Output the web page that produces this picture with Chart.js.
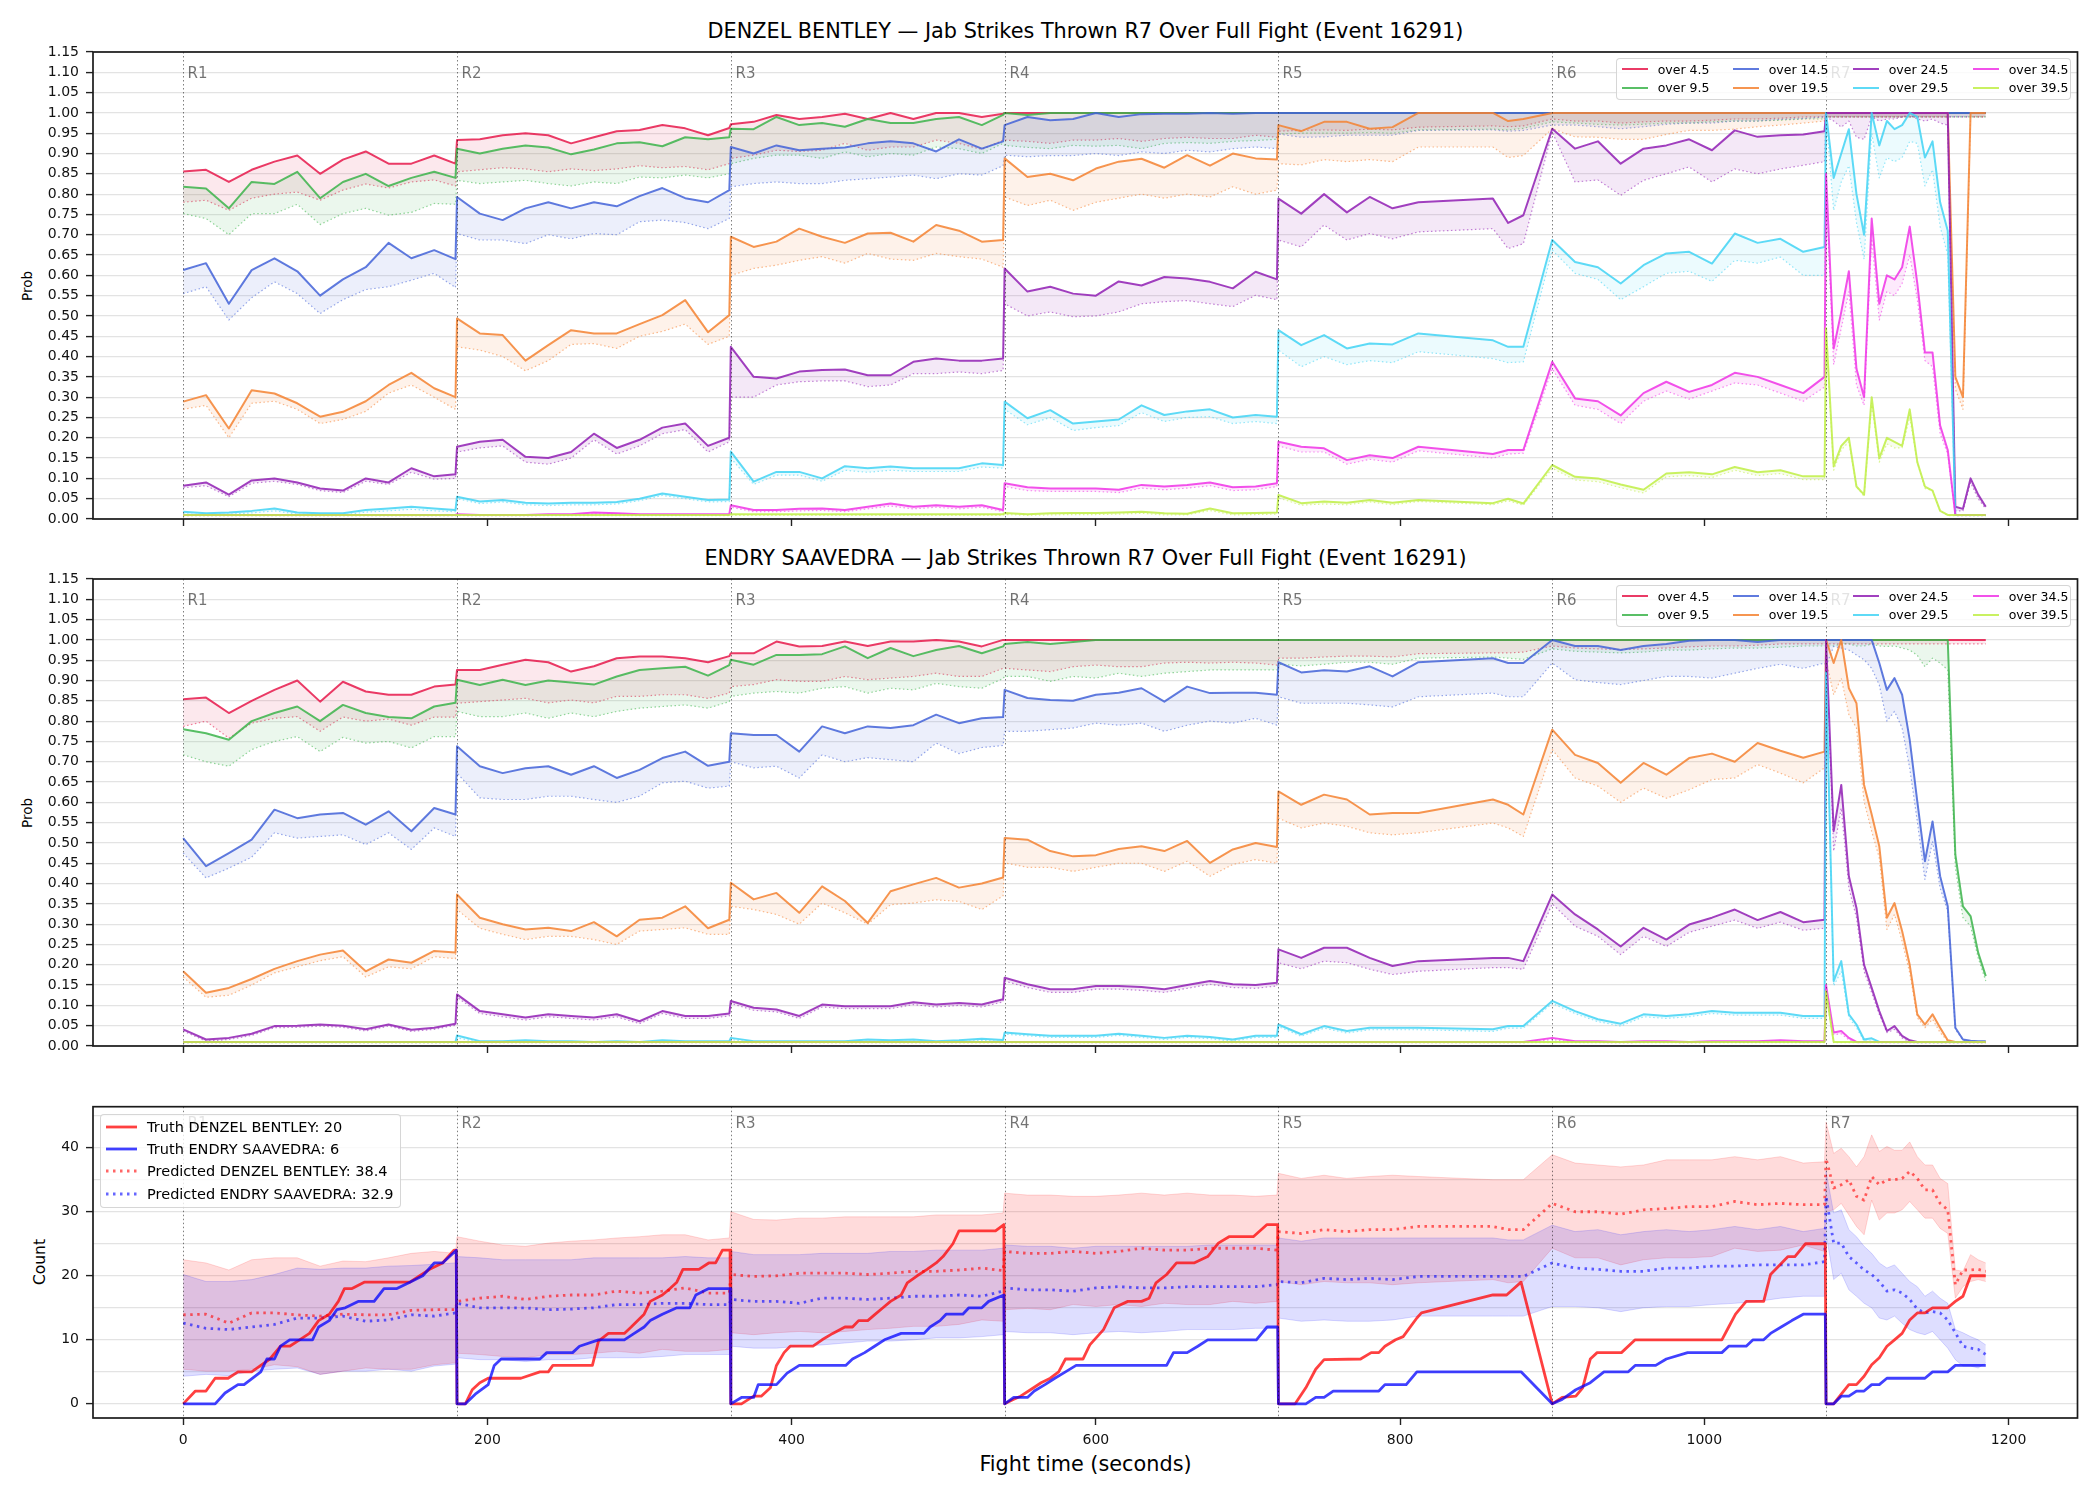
<!DOCTYPE html>
<html>
<head>
<meta charset="utf-8">
<title>Jab Strikes Thrown R7 Over Full Fight (Event 16291)</title>
<script src="https://cdn.jsdelivr.net/npm/chart.js"></script>
<style>
  body { margin: 0; background: #fff; font-family: "DejaVu Sans", sans-serif; color: #000; }
  #page { position: relative; width: 2100px; height: 1500px; overflow: hidden; }
  canvas { position: absolute; left: 0; }
  .title { position: absolute; left: 93px; width: 1985px; text-align: center; font-size: 20.8px; line-height: 24px; white-space: nowrap; }
  .ylab { position: absolute; transform: translate(-50%, -50%) rotate(-90deg); white-space: nowrap; }
  .legend { position: absolute; background: rgba(255,255,255,0.8); border: 1px solid rgba(204,204,204,0.8); border-radius: 4px; box-sizing: border-box; z-index: 5; }
  .item { position: absolute; display: flex; align-items: center; white-space: nowrap; }
</style>
</head>
<body>
<div id="page">
  <div class="title" style="top:19px">DENZEL BENTLEY — Jab Strikes Thrown R7 Over Full Fight (Event 16291)</div>
  <div class="title" style="top:546px">ENDRY SAAVEDRA — Jab Strikes Thrown R7 Over Full Fight (Event 16291)</div>
  <div class="title" style="top:1452px">Fight time (seconds)</div>
  <div class="ylab" style="left:27px;top:286px;font-size:13.5px">Prob</div>
  <div class="ylab" style="left:27px;top:813px;font-size:13.5px">Prob</div>
  <div class="ylab" style="left:40px;top:1262px;font-size:15.5px">Count</div>
  <canvas id="top" width="2100" height="545" style="top:0"></canvas>
  <canvas id="mid" width="2100" height="545" style="top:527px"></canvas>
  <canvas id="cnt" width="2100" height="446" style="top:1054px"></canvas>
</div>
<script>
// sample times (s); rounds R1-R6 every 15 s, R7 every 5 s
const times = [
  0,15,30,45,60,75,90,105,120,135,150,165,179,
  180,195,210,225,240,255,270,285,300,315,330,345,359,
  360,375,390,405,420,435,450,465,480,495,510,525,539,
  540,555,570,585,600,615,630,645,660,675,690,705,719,
  720,735,750,765,780,795,812,861,871,881,
  900,915,930,945,960,975,990,1005,1020,1035,1050,1065,1079,
  1080,1085,1090,1095,1100,1105,1110,1115,1120,1125,1130,1135,1140,1145,1150,1155,1160,1165,1170,1175,1180,1185
];
const roundStarts = [0, 180, 360, 540, 720, 900, 1080];
const roundNames = ["R1", "R2", "R3", "R4", "R5", "R6", "R7"];
const thresholds = ["over 4.5", "over 9.5", "over 14.5", "over 19.5", "over 24.5", "over 29.5", "over 34.5", "over 39.5"];
const seriesColors = ["#e6194b", "#3cb44b", "#4363d8", "#f58231", "#911eb4", "#42d4f4", "#f032e6", "#bfef45"];
const xTicks = [0, 200, 400, 600, 800, 1000, 1200];
const probTicks = [0,0.05,0.1,0.15,0.2,0.25,0.3,0.35,0.4,0.45,0.5,0.55,0.6,0.65,0.7,0.75,0.8,0.85,0.9,0.95,1,1.05,1.1,1.15];
const countTicks = [0,5,10,15,20,25,30,35,40,45];
const countLabels = [0, 10, 20, 30, 40];

// DENZEL BENTLEY: probability of over N.5 (solid) and lower estimate (dotted)
const db4_5 = [
  0.856,0.86,0.83,0.86,0.88,0.895,0.85,0.885,0.905,0.875,0.875,0.895,0.875,
  0.933,0.935,0.945,0.95,0.945,0.925,0.94,0.955,0.958,0.97,0.962,0.945,0.963,
  0.972,0.978,0.995,0.985,0.99,0.998,0.985,1,0.985,1,1,0.99,0.998,
  1,1,1,1,1,1,1,1,1,1,1,1,1,
  1,1,1,1,1,1,1,1,1,1,
  1,1,1,1,1,1,1,1,1,1,1,1,1,
  1,1,1,1,1,1,1,1,1,1,1,1,1,1,1,1,1,1,1,1,1,1
];
const db4_5Lo = [
  0.78,0.785,0.76,0.79,0.8,0.805,0.785,0.81,0.825,0.815,0.83,0.835,0.82,
  0.855,0.86,0.865,0.862,0.855,0.862,0.858,0.862,0.87,0.865,0.868,0.86,0.875,
  0.888,0.896,0.908,0.905,0.908,0.925,0.908,0.916,0.916,0.933,0.925,0.91,0.933,
  0.933,0.93,0.925,0.933,0.933,0.937,0.93,0.937,0.94,0.937,0.937,0.945,0.94,
  0.955,0.957,0.958,0.957,0.96,0.958,0.965,0.968,0.966,0.968,
  0.985,0.98,0.98,0.975,0.978,0.98,0.98,0.982,0.985,0.985,0.987,0.99,0.99,
  0.99,0.99,0.99,0.99,0.99,0.99,0.99,0.99,0.99,0.99,0.99,0.99,0.99,0.99,0.99,0.99,0.99,0.99,0.99,0.99,0.99,0.99
];
const db9_5 = [
  0.818,0.814,0.765,0.83,0.825,0.855,0.79,0.83,0.85,0.82,0.84,0.855,0.84,
  0.912,0.9,0.912,0.92,0.915,0.898,0.91,0.925,0.928,0.918,0.94,0.935,0.94,
  0.961,0.96,0.99,0.97,0.975,0.966,0.985,0.975,0.975,0.985,0.99,0.97,0.995,
  1,0.995,1,1,1,1,1,1,1,1,1,1,1,
  1,1,1,1,1,1,1,1,1,1,
  1,1,1,1,1,1,1,1,1,1,1,1,1,
  1,1,1,1,1,1,1,1,1,1,1,1,1,1,1,1,1,1,1,1,1,1
];
const db9_5Lo = [
  0.752,0.74,0.7,0.752,0.752,0.775,0.725,0.752,0.765,0.748,0.755,0.777,0.775,
  0.834,0.826,0.83,0.834,0.826,0.82,0.83,0.826,0.842,0.84,0.847,0.84,0.85,
  0.875,0.888,0.896,0.896,0.888,0.904,0.892,0.9,0.896,0.916,0.912,0.9,0.925,
  0.92,0.915,0.912,0.92,0.918,0.92,0.912,0.925,0.927,0.925,0.93,0.932,0.935,
  0.948,0.95,0.95,0.95,0.952,0.95,0.958,0.96,0.958,0.962,
  0.978,0.975,0.972,0.97,0.972,0.975,0.975,0.978,0.98,0.98,0.982,0.985,0.985,
  0.99,0.99,0.99,0.99,0.99,0.99,0.99,0.99,0.99,0.99,0.99,0.99,0.99,0.99,0.99,0.99,0.99,0.99,0.99,0.99,0.99,0.99
];
const db14_5 = [
  0.613,0.63,0.53,0.613,0.642,0.61,0.55,0.59,0.62,0.68,0.642,0.662,0.64,
  0.793,0.752,0.736,0.765,0.78,0.765,0.78,0.77,0.795,0.815,0.79,0.78,0.81,
  0.916,0.9,0.92,0.908,0.912,0.915,0.925,0.93,0.925,0.905,0.935,0.912,0.93,
  0.97,0.99,0.982,0.985,1,0.99,0.997,0.998,0.998,1,0.998,1,1,
  1,1,1,1,1,1,1,1,1,1,
  1,1,1,1,1,1,1,1,1,1,1,1,1,
  1,1,1,1,1,1,1,1,1,1,1,1,1,1,1,1,1,1,1,1,1,1
];
const db14_5Lo = [
  0.555,0.572,0.49,0.545,0.584,0.555,0.506,0.54,0.565,0.572,0.588,0.605,0.57,
  0.703,0.687,0.687,0.678,0.7,0.69,0.703,0.7,0.732,0.736,0.73,0.715,0.74,
  0.818,0.826,0.83,0.826,0.826,0.834,0.838,0.842,0.847,0.838,0.85,0.847,0.87,
  0.896,0.892,0.895,0.895,0.9,0.895,0.904,0.9,0.908,0.904,0.912,0.916,0.912,
  0.948,0.94,0.941,0.945,0.945,0.945,0.957,0.958,0.955,0.957,
  0.97,0.97,0.966,0.961,0.966,0.972,0.975,0.975,0.98,0.98,0.984,0.986,0.99,
  0.99,0.99,0.99,0.99,0.99,0.99,0.99,0.99,0.99,0.99,0.99,0.99,0.99,0.99,0.99,0.99,0.99,0.99,0.99,0.99,0.99,0.99
];
const db19_5 = [
  0.289,0.305,0.223,0.317,0.309,0.285,0.252,0.264,0.29,0.33,0.36,0.322,0.3,
  0.494,0.457,0.453,0.39,0.428,0.465,0.457,0.457,0.48,0.502,0.539,0.46,0.502,
  0.695,0.67,0.683,0.715,0.695,0.68,0.703,0.705,0.683,0.724,0.71,0.683,0.687,
  0.888,0.842,0.85,0.834,0.863,0.88,0.887,0.865,0.896,0.87,0.9,0.888,0.885,
  0.97,0.955,0.978,0.978,0.961,0.965,1,1,0.98,0.985,
  1,1,1,1,1,1,1,1,1,1,1,1,1,
  1,1,1,1,1,1,1,1,1,1,1,1,1,1,1,1,1,0.35,0.3,1,1,1
];
const db19_5Lo = [
  0.27,0.28,0.2,0.285,0.29,0.27,0.235,0.245,0.265,0.31,0.33,0.3,0.27,
  0.424,0.416,0.4,0.365,0.39,0.43,0.432,0.42,0.45,0.462,0.48,0.43,0.45,
  0.6,0.617,0.625,0.637,0.646,0.63,0.654,0.64,0.637,0.654,0.646,0.64,0.62,
  0.793,0.772,0.785,0.76,0.78,0.79,0.8,0.79,0.8,0.793,0.818,0.8,0.81,
  0.875,0.872,0.885,0.88,0.885,0.88,0.916,0.916,0.89,0.895,
  0.961,0.941,0.94,0.935,0.935,0.947,0.957,0.957,0.96,0.966,0.97,0.975,0.98,
  0.99,0.99,0.99,0.99,0.99,0.99,0.99,0.99,0.99,0.99,0.99,0.99,0.99,0.99,0.99,0.99,0.99,0.32,0.27,0.99,0.99,0.99
];
const db24_5 = [
  0.082,0.09,0.06,0.095,0.1,0.09,0.075,0.07,0.1,0.09,0.125,0.105,0.11,
  0.178,0.19,0.195,0.153,0.15,0.165,0.21,0.175,0.195,0.225,0.235,0.18,0.2,
  0.424,0.35,0.346,0.363,0.367,0.368,0.354,0.354,0.387,0.395,0.39,0.39,0.395,
  0.617,0.56,0.572,0.555,0.55,0.585,0.575,0.596,0.592,0.584,0.568,0.609,0.59,
  0.789,0.752,0.8,0.755,0.793,0.765,0.78,0.789,0.729,0.748,
  0.961,0.912,0.93,0.875,0.912,0.92,0.935,0.908,0.957,0.941,0.945,0.947,0.955,
  1,1,1,1,1,1,1,1,1,1,1,1,1,1,1,1,1,0.03,0.025,0.1,0.06,0.03
];
const db24_5Lo = [
  0.077,0.082,0.055,0.088,0.093,0.085,0.07,0.065,0.093,0.085,0.115,0.098,0.1,
  0.165,0.175,0.18,0.14,0.135,0.15,0.195,0.16,0.18,0.21,0.22,0.165,0.19,
  0.3,0.3,0.33,0.338,0.34,0.34,0.326,0.33,0.358,0.358,0.362,0.358,0.366,
  0.53,0.5,0.51,0.498,0.5,0.51,0.53,0.535,0.538,0.53,0.523,0.551,0.54,
  0.687,0.67,0.724,0.687,0.703,0.69,0.707,0.715,0.666,0.678,
  0.953,0.83,0.835,0.797,0.834,0.85,0.867,0.83,0.862,0.85,0.862,0.871,0.88,
  0.99,0.98,0.965,0.98,0.94,0.935,0.99,0.98,0.985,0.985,0.99,0.995,0.985,0.98,0.985,0.975,0.97,0.02,0.02,0.09,0.05,0.025
];
const db29_5 = [
  0.018,0.014,0.016,0.02,0.026,0.016,0.014,0.014,0.022,0.026,0.03,0.026,0.022,
  0.055,0.043,0.047,0.04,0.038,0.04,0.04,0.042,0.05,0.063,0.055,0.047,0.048,
  0.166,0.092,0.116,0.116,0.1,0.13,0.125,0.129,0.125,0.125,0.125,0.137,0.133,
  0.289,0.248,0.268,0.235,0.24,0.245,0.28,0.256,0.265,0.27,0.25,0.256,0.252,
  0.465,0.428,0.453,0.42,0.432,0.43,0.457,0.44,0.424,0.424,
  0.687,0.633,0.62,0.58,0.625,0.654,0.658,0.629,0.703,0.68,0.69,0.658,0.67,
  1,0.84,0.9,0.96,0.8,0.7,1,0.92,0.98,0.96,0.97,1,0.99,0.89,0.93,0.78,0.71,0.01,0.01,0.01,0.01,0.01
];
const db29_5Lo = [
  0.013,0.01,0.012,0.015,0.02,0.012,0.01,0.01,0.017,0.02,0.024,0.02,0.018,
  0.05,0.038,0.042,0.035,0.033,0.035,0.035,0.037,0.045,0.058,0.05,0.042,0.043,
  0.15,0.085,0.108,0.108,0.093,0.12,0.115,0.12,0.117,0.117,0.117,0.128,0.125,
  0.27,0.232,0.25,0.218,0.225,0.23,0.262,0.24,0.25,0.252,0.235,0.24,0.235,
  0.416,0.375,0.4,0.38,0.39,0.385,0.412,0.395,0.385,0.387,
  0.662,0.605,0.59,0.54,0.572,0.605,0.61,0.585,0.637,0.63,0.645,0.6,0.6,
  0.99,0.76,0.83,0.87,0.73,0.64,0.95,0.84,0.89,0.88,0.89,0.93,0.925,0.82,0.86,0.72,0.65,0.008,0.008,0.008,0.008,0.008
];
const db34_5 = [
  0.01,0.01,0.01,0.01,0.01,0.01,0.01,0.01,0.01,0.01,0.01,0.01,0.01,
  0.012,0.01,0.01,0.01,0.012,0.012,0.016,0.014,0.012,0.012,0.012,0.012,0.012,
  0.034,0.022,0.022,0.025,0.026,0.022,0.03,0.038,0.03,0.034,0.03,0.034,0.022,
  0.088,0.078,0.075,0.075,0.075,0.072,0.084,0.08,0.084,0.09,0.078,0.08,0.088,
  0.19,0.178,0.174,0.145,0.157,0.15,0.178,0.16,0.17,0.17,
  0.387,0.297,0.29,0.255,0.31,0.338,0.313,0.33,0.36,0.35,0.33,0.31,0.35,
  0.85,0.42,0.51,0.61,0.37,0.3,0.74,0.53,0.6,0.59,0.62,0.72,0.58,0.41,0.41,0.23,0.17,0.01,0.01,0.01,0.01,0.01
];
const db34_5Lo = [
  0.008,0.008,0.008,0.008,0.008,0.008,0.008,0.008,0.008,0.008,0.008,0.008,0.008,
  0.009,0.008,0.008,0.008,0.009,0.009,0.012,0.011,0.009,0.009,0.009,0.009,0.009,
  0.029,0.018,0.018,0.02,0.021,0.018,0.025,0.032,0.025,0.029,0.025,0.029,0.018,
  0.08,0.07,0.068,0.068,0.068,0.065,0.076,0.072,0.076,0.082,0.07,0.072,0.08,
  0.18,0.165,0.165,0.135,0.147,0.14,0.168,0.15,0.16,0.162,
  0.37,0.28,0.27,0.235,0.29,0.315,0.295,0.315,0.335,0.33,0.31,0.29,0.325,
  0.8,0.38,0.47,0.56,0.33,0.28,0.69,0.49,0.56,0.55,0.58,0.65,0.54,0.39,0.375,0.21,0.16,0.008,0.008,0.008,0.008,0.008
];
const db39_5 = [
  0.01,0.01,0.01,0.01,0.01,0.01,0.01,0.01,0.01,0.01,0.01,0.01,0.01,
  0.01,0.01,0.01,0.01,0.01,0.01,0.01,0.01,0.01,0.01,0.01,0.01,0.01,
  0.012,0.012,0.012,0.012,0.012,0.012,0.012,0.012,0.012,0.012,0.012,0.012,0.012,
  0.015,0.012,0.014,0.015,0.015,0.016,0.018,0.014,0.013,0.026,0.014,0.015,0.016,
  0.059,0.039,0.043,0.04,0.047,0.04,0.047,0.039,0.05,0.038,
  0.133,0.104,0.1,0.085,0.072,0.112,0.115,0.11,0.128,0.115,0.12,0.105,0.105,
  0.47,0.13,0.18,0.2,0.08,0.06,0.3,0.15,0.2,0.19,0.18,0.27,0.14,0.08,0.07,0.02,0.01,0.01,0.01,0.01,0.01,0.01
];
const db39_5Lo = [
  0.008,0.008,0.008,0.008,0.008,0.008,0.008,0.008,0.008,0.008,0.008,0.008,0.008,
  0.008,0.008,0.008,0.008,0.008,0.008,0.008,0.008,0.008,0.008,0.008,0.008,0.008,
  0.009,0.009,0.009,0.009,0.009,0.009,0.009,0.009,0.009,0.009,0.009,0.009,0.009,
  0.011,0.009,0.01,0.011,0.011,0.012,0.014,0.01,0.01,0.021,0.01,0.011,0.012,
  0.052,0.034,0.037,0.035,0.042,0.035,0.043,0.035,0.045,0.034,
  0.125,0.096,0.092,0.077,0.064,0.104,0.107,0.102,0.12,0.107,0.112,0.097,0.097,
  0.45,0.12,0.17,0.19,0.08,0.055,0.285,0.14,0.185,0.175,0.175,0.25,0.14,0.075,0.07,0.02,0.008,0.008,0.008,0.008,0.008,0.008
];

// ENDRY SAAVEDRA
const es4_5 = [
  0.854,0.858,0.82,0.85,0.877,0.9,0.848,0.897,0.873,0.865,0.865,0.885,0.89,
  0.926,0.926,0.939,0.951,0.945,0.922,0.935,0.955,0.959,0.959,0.955,0.945,0.96,
  0.967,0.967,0.996,0.984,0.985,0.996,0.985,0.996,0.996,1,0.996,0.984,1,
  1,1,1,1,1,1,1,1,1,1,1,1,1,
  1,1,1,1,1,1,1,1,1,1,
  1,1,1,1,1,1,1,1,1,1,1,1,1,
  1,1,1,1,1,1,1,1,1,1,1,1,1,1,1,1,1,1,1,1,1,1
];
const es4_5Lo = [
  0.787,0.8,0.758,0.795,0.807,0.811,0.775,0.81,0.8,0.805,0.79,0.81,0.81,
  0.844,0.848,0.852,0.856,0.845,0.852,0.845,0.861,0.861,0.865,0.865,0.856,0.869,
  0.885,0.89,0.902,0.898,0.898,0.91,0.902,0.906,0.91,0.918,0.91,0.91,0.93,
  0.93,0.926,0.922,0.934,0.938,0.934,0.934,0.943,0.945,0.943,0.945,0.943,0.938,
  0.955,0.955,0.958,0.96,0.96,0.958,0.966,0.968,0.968,0.97,
  0.985,0.98,0.978,0.976,0.978,0.98,0.983,0.985,0.985,0.987,0.99,0.99,0.99,
  0.99,0.99,0.99,0.99,0.99,0.99,0.99,0.99,0.99,0.99,0.99,0.99,0.99,0.99,0.99,0.99,0.99,0.99,0.99,0.99,0.99,0.99
];
const es9_5 = [
  0.78,0.77,0.754,0.8,0.82,0.836,0.8,0.84,0.82,0.81,0.807,0.836,0.845,
  0.902,0.889,0.902,0.889,0.9,0.895,0.89,0.91,0.926,0.93,0.934,0.912,0.938,
  0.951,0.939,0.963,0.963,0.965,0.984,0.955,0.98,0.96,0.975,0.985,0.967,0.984,
  0.99,0.995,0.99,0.995,1,1,1,1,1,1,1,1,1,
  1,1,1,1,1,1,1,1,1,1,
  1,1,1,1,1,1,1,1,1,1,1,1,1,
  1,1,1,1,1,1,1,1,1,1,1,1,1,1,1,1,1,0.471,0.344,0.32,0.23,0.172
];
const es9_5Lo = [
  0.717,0.7,0.689,0.73,0.75,0.762,0.725,0.76,0.746,0.75,0.734,0.762,0.762,
  0.824,0.811,0.811,0.82,0.807,0.82,0.811,0.824,0.832,0.836,0.84,0.832,0.848,
  0.861,0.869,0.873,0.869,0.881,0.885,0.869,0.881,0.877,0.893,0.885,0.881,0.905,
  0.91,0.91,0.898,0.91,0.906,0.918,0.91,0.918,0.922,0.926,0.926,0.926,0.926,
  0.94,0.936,0.94,0.945,0.945,0.94,0.955,0.958,0.955,0.952,
  0.978,0.972,0.97,0.968,0.97,0.975,0.975,0.978,0.98,0.98,0.982,0.985,0.985,
  0.985,0.985,0.99,0.99,0.985,0.985,0.99,0.985,0.984,0.985,0.98,0.975,0.962,0.934,0.955,0.943,0.926,0.439,0.316,0.295,0.217,0.16
];
const es14_5 = [
  0.512,0.443,0.475,0.508,0.582,0.561,0.57,0.574,0.545,0.578,0.529,0.586,0.57,
  0.738,0.689,0.672,0.684,0.689,0.668,0.689,0.66,0.68,0.709,0.725,0.69,0.7,
  0.77,0.766,0.766,0.725,0.787,0.77,0.787,0.783,0.79,0.816,0.795,0.807,0.81,
  0.877,0.857,0.852,0.85,0.865,0.87,0.881,0.848,0.885,0.869,0.87,0.87,0.865,
  0.945,0.92,0.925,0.922,0.935,0.91,0.945,0.955,0.943,0.943,
  1,0.985,0.985,0.975,0.985,0.99,0.998,1,1,0.995,1,1,1,
  1,1,1,1,1,1,1,0.943,0.877,0.906,0.865,0.754,0.602,0.455,0.553,0.418,0.344,0.045,0.016,0.013,0.012,0.012
];
const es14_5Lo = [
  0.475,0.414,0.438,0.465,0.525,0.512,0.516,0.52,0.496,0.525,0.484,0.537,0.516,
  0.672,0.611,0.607,0.607,0.615,0.615,0.607,0.6,0.615,0.648,0.652,0.635,0.64,
  0.7,0.685,0.689,0.66,0.717,0.7,0.71,0.705,0.7,0.746,0.72,0.735,0.74,
  0.775,0.775,0.779,0.783,0.795,0.79,0.795,0.775,0.79,0.8,0.795,0.807,0.79,
  0.86,0.844,0.844,0.844,0.84,0.835,0.86,0.869,0.86,0.86,
  0.943,0.902,0.895,0.89,0.9,0.91,0.91,0.906,0.918,0.93,0.94,0.93,0.943,
  0.935,0.984,0.98,0.975,0.963,0.951,0.93,0.889,0.8,0.824,0.783,0.684,0.553,0.41,0.504,0.389,0.332,0.041,0.014,0.012,0.01,0.01
];
const es19_5 = [
  0.184,0.131,0.143,0.165,0.19,0.209,0.225,0.235,0.184,0.213,0.205,0.234,0.23,
  0.373,0.316,0.3,0.287,0.291,0.283,0.305,0.27,0.311,0.316,0.344,0.29,0.311,
  0.402,0.361,0.377,0.328,0.393,0.357,0.303,0.381,0.398,0.414,0.39,0.4,0.415,
  0.512,0.508,0.48,0.467,0.47,0.485,0.492,0.48,0.505,0.451,0.484,0.5,0.49,
  0.627,0.594,0.619,0.607,0.57,0.574,0.574,0.607,0.594,0.57,
  0.779,0.717,0.697,0.648,0.697,0.668,0.709,0.72,0.7,0.746,0.727,0.71,0.725,
  1,0.943,1,0.881,0.844,0.643,0.57,0.492,0.316,0.352,0.283,0.2,0.078,0.053,0.078,0.045,0.014,0.01,0.01,0.01,0.01,0.01
];
const es19_5Lo = [
  0.17,0.12,0.125,0.15,0.18,0.195,0.21,0.22,0.17,0.195,0.19,0.22,0.215,
  0.336,0.29,0.275,0.262,0.27,0.27,0.262,0.25,0.283,0.287,0.291,0.275,0.275,
  0.344,0.336,0.324,0.3,0.352,0.328,0.3,0.348,0.352,0.36,0.356,0.336,0.37,
  0.451,0.44,0.44,0.43,0.44,0.45,0.45,0.43,0.455,0.418,0.447,0.459,0.45,
  0.561,0.537,0.549,0.541,0.525,0.52,0.525,0.549,0.537,0.516,
  0.73,0.66,0.64,0.6,0.635,0.61,0.631,0.656,0.66,0.693,0.672,0.648,0.685,
  0.95,0.865,0.906,0.816,0.783,0.602,0.529,0.463,0.287,0.324,0.258,0.18,0.07,0.045,0.066,0.033,0.012,0.01,0.01,0.01,0.01,0.01
];
const es24_5 = [
  0.041,0.016,0.02,0.03,0.049,0.05,0.053,0.05,0.041,0.053,0.04,0.045,0.055,
  0.127,0.086,0.078,0.07,0.078,0.074,0.07,0.078,0.061,0.086,0.074,0.074,0.08,
  0.111,0.094,0.09,0.074,0.102,0.098,0.098,0.098,0.108,0.102,0.106,0.102,0.115,
  0.168,0.152,0.14,0.14,0.148,0.148,0.145,0.14,0.15,0.16,0.152,0.15,0.156,
  0.238,0.217,0.242,0.242,0.217,0.197,0.209,0.217,0.217,0.209,
  0.373,0.324,0.287,0.245,0.291,0.262,0.299,0.316,0.336,0.31,0.33,0.305,0.311,
  1,0.529,0.643,0.418,0.34,0.2,0.143,0.086,0.037,0.049,0.025,0.014,0.01,0.01,0.01,0.01,0.01,0.01,0.01,0.01,0.01,0.01
];
const es24_5Lo = [
  0.037,0.012,0.016,0.026,0.045,0.046,0.049,0.046,0.037,0.049,0.036,0.041,0.051,
  0.12,0.08,0.072,0.064,0.072,0.068,0.064,0.072,0.055,0.08,0.068,0.068,0.074,
  0.105,0.088,0.084,0.068,0.096,0.092,0.092,0.092,0.102,0.096,0.1,0.096,0.109,
  0.16,0.144,0.132,0.132,0.14,0.14,0.137,0.132,0.142,0.152,0.144,0.142,0.148,
  0.205,0.19,0.209,0.205,0.189,0.176,0.184,0.193,0.193,0.189,
  0.35,0.295,0.27,0.225,0.27,0.245,0.28,0.295,0.31,0.29,0.305,0.285,0.29,
  0.99,0.48,0.586,0.389,0.316,0.184,0.131,0.078,0.033,0.041,0.02,0.01,0.008,0.008,0.008,0.008,0.008,0.008,0.008,0.008,0.008,0.008
];
const es29_5 = [
  0.01,0.01,0.01,0.01,0.01,0.01,0.01,0.01,0.01,0.01,0.01,0.01,0.01,
  0.026,0.012,0.012,0.014,0.012,0.012,0.01,0.012,0.01,0.014,0.012,0.012,0.012,
  0.02,0.012,0.012,0.012,0.012,0.012,0.016,0.014,0.016,0.012,0.014,0.018,0.015,
  0.033,0.029,0.025,0.025,0.025,0.03,0.025,0.02,0.025,0.022,0.016,0.025,0.025,
  0.053,0.029,0.049,0.037,0.045,0.045,0.045,0.041,0.049,0.049,
  0.111,0.086,0.066,0.055,0.078,0.074,0.078,0.086,0.082,0.082,0.082,0.074,0.074,
  0.92,0.16,0.209,0.078,0.053,0.016,0.019,0.01,0.01,0.01,0.01,0.01,0.01,0.01,0.01,0.01,0.01,0.01,0.01,0.01,0.01,0.01
];
const es29_5Lo = [
  0.008,0.008,0.008,0.008,0.008,0.008,0.008,0.008,0.008,0.008,0.008,0.008,0.008,
  0.02,0.009,0.009,0.01,0.009,0.009,0.008,0.009,0.008,0.01,0.009,0.009,0.009,
  0.016,0.009,0.009,0.009,0.009,0.009,0.012,0.01,0.012,0.009,0.01,0.014,0.011,
  0.029,0.025,0.021,0.021,0.021,0.026,0.021,0.016,0.021,0.018,0.012,0.021,0.021,
  0.048,0.024,0.044,0.032,0.04,0.04,0.04,0.036,0.044,0.044,
  0.105,0.08,0.06,0.049,0.072,0.068,0.072,0.08,0.076,0.076,0.076,0.068,0.068,
  0.9,0.148,0.184,0.07,0.045,0.012,0.012,0.008,0.008,0.008,0.008,0.008,0.008,0.008,0.008,0.008,0.008,0.008,0.008,0.008,0.008,0.008
];
const es34_5 = [
  0.01,0.01,0.01,0.01,0.01,0.01,0.01,0.01,0.01,0.01,0.01,0.01,0.01,
  0.01,0.01,0.01,0.01,0.01,0.01,0.01,0.01,0.01,0.01,0.01,0.01,0.01,
  0.01,0.01,0.01,0.01,0.01,0.01,0.01,0.01,0.01,0.01,0.01,0.01,0.01,
  0.01,0.01,0.01,0.01,0.01,0.01,0.01,0.01,0.01,0.01,0.01,0.01,0.01,
  0.01,0.01,0.01,0.01,0.01,0.01,0.01,0.01,0.01,0.01,
  0.02,0.012,0.012,0.01,0.012,0.012,0.01,0.012,0.012,0.012,0.014,0.012,0.012,
  0.15,0.033,0.037,0.02,0.01,0.01,0.01,0.01,0.01,0.01,0.01,0.01,0.01,0.01,0.01,0.01,0.01,0.01,0.01,0.01,0.01,0.01
];
const es34_5Lo = [
  0.008,0.008,0.008,0.008,0.008,0.008,0.008,0.008,0.008,0.008,0.008,0.008,0.008,
  0.008,0.008,0.008,0.008,0.008,0.008,0.008,0.008,0.008,0.008,0.008,0.008,0.008,
  0.008,0.008,0.008,0.008,0.008,0.008,0.008,0.008,0.008,0.008,0.008,0.008,0.008,
  0.008,0.008,0.008,0.008,0.008,0.008,0.008,0.008,0.008,0.008,0.008,0.008,0.008,
  0.008,0.008,0.008,0.008,0.008,0.008,0.008,0.008,0.008,0.008,
  0.016,0.009,0.009,0.008,0.009,0.009,0.008,0.009,0.009,0.009,0.011,0.009,0.009,
  0.14,0.028,0.03,0.015,0.008,0.008,0.008,0.008,0.008,0.008,0.008,0.008,0.008,0.008,0.008,0.008,0.008,0.008,0.008,0.008,0.008,0.008
];
const es39_5 = [
  0.01,0.01,0.01,0.01,0.01,0.01,0.01,0.01,0.01,0.01,0.01,0.01,0.01,
  0.01,0.01,0.01,0.01,0.01,0.01,0.01,0.01,0.01,0.01,0.01,0.01,0.01,
  0.01,0.01,0.01,0.01,0.01,0.01,0.01,0.01,0.01,0.01,0.01,0.01,0.01,
  0.01,0.01,0.01,0.01,0.01,0.01,0.01,0.01,0.01,0.01,0.01,0.01,0.01,
  0.01,0.01,0.01,0.01,0.01,0.01,0.01,0.01,0.01,0.01,
  0.01,0.01,0.01,0.01,0.01,0.01,0.01,0.01,0.01,0.01,0.01,0.01,0.01,
  0.135,0.01,0.01,0.01,0.01,0.01,0.01,0.01,0.01,0.01,0.01,0.01,0.01,0.01,0.01,0.01,0.01,0.01,0.01,0.01,0.01,0.01
];
const es39_5Lo = [
  0.008,0.008,0.008,0.008,0.008,0.008,0.008,0.008,0.008,0.008,0.008,0.008,0.008,
  0.008,0.008,0.008,0.008,0.008,0.008,0.008,0.008,0.008,0.008,0.008,0.008,0.008,
  0.008,0.008,0.008,0.008,0.008,0.008,0.008,0.008,0.008,0.008,0.008,0.008,0.008,
  0.008,0.008,0.008,0.008,0.008,0.008,0.008,0.008,0.008,0.008,0.008,0.008,0.008,
  0.008,0.008,0.008,0.008,0.008,0.008,0.008,0.008,0.008,0.008,
  0.008,0.008,0.008,0.008,0.008,0.008,0.008,0.008,0.008,0.008,0.008,0.008,0.008,
  0.13,0.008,0.008,0.008,0.008,0.008,0.008,0.008,0.008,0.008,0.008,0.008,0.008,0.008,0.008,0.008,0.008,0.008,0.008,0.008,0.008,0.008
];

// cumulative counts: truth (own change-point times), predicted mean and band
const truthDBTimes = [
  0,8,15,21,29.5,36,45,51,57,64,70,76.5,83,89,96,102,106,111,119,149,155.5,162,170.5,178,179.5,
  180,185.5,190,195,200.5,222,234.5,240,243,269,273,279.5,290,294.5,303,307,315,320,324.5,328.5,339,345.5,350,354.5,359.5,
  360,367,375,380,386,390,395,399,414,420,427,435,440,444,450,455,460,465,472,476,482.5,489,495,499.5,506,510,534,539.5,
  540,546,550.5,557,564,570,575.5,580,591.5,596,605,612,621,630,635,639.5,646.5,653,664.5,673.5,680.5,687.5,703.5,712.5,719.5,
  720,731,738,744.5,750,774,781,786,790,797,802,811,814,861,870,879.5,
  900,906.5,915.5,920,925,929.5,945.5,954.5,1011.5,1016,1020.5,1027.5,1039,1043.5,1055,1059.5,1066.5,1079.5,
  1080,1085,1090,1095,1100,1105,1110,1115,1120,1125,1130,1135,1140,1145,1150,1155,1160,1165,1170,1175,1180,1185
];
const truthDB = [
  0,2,2,4,4,5,5,6,7,9,9,10,11,13,14,16,18,18,19,19,20,21,22,24,24,
  0,0,2.2,3.3,4,4,5,5,6,6,9.8,11,11,12,14,16,17,18,19,21,21,22,22,24,24,
  0,0,1.2,1.2,2.5,6,8,9,9,10,11,12,12,13,13,14,15,16,17,18.9,20,21,22,23,25,27,27,28,
  0,0.7,1.2,2.2,3.3,4,5,7,7,9.2,11.6,15,16,16,16.5,18.9,20.2,22,22,23,25.1,26.1,26.1,28,28,
  0,0,2.5,5.4,6.9,7,8,8,9,10,10.5,13.4,14.2,17,17,19,
  0,1,1.2,2.5,7,8,8,10,10,12,14,16,16,20.2,23,23,25,25,
  0,0,1.5,3,3,4.3,6.1,7.2,9,10,11,13.1,14.2,14.2,15,15,15,16,16.8,20,20,20
];
const truthESTimes = [
  0,21,27.5,36,40,51,55,60,64,70,85,89,96,101,106.5,115,125.5,132,140.5,149,157.5,165,170.5,179.5,
  180,185.5,192,200.5,204.5,209,234.5,239,256,260.5,273,290,296.5,303,307,315,324.5,333,337,345.5,359.5,
  360,367,375,378,390,397,405,435.5,440,448,454.5,461,472,487,491,497.5,501.5,512.5,516.5,525,529.5,539.5,
  540,546,555,559.5,566.5,573,580,587,646.5,651,660,667,673.5,705.5,712.5,719.5,
  720,738,744.5,750,756,786,790,804,811,861,879.5,
  900,906.5,915.5,925,934,950,954.5,968,975,989,1011.5,1016,1027.5,1032,1039,1043.5,1050.5,1057.5,1065,1079.5,
  1080,1085,1090,1095,1100,1105,1110,1115,1120,1145,1150,1160,1165,1185
];
const truthES = [
  0,0,1.7,3,3,5,7,7,9,10,10,12,13,14.7,15,16,16,18,18,19,20,22,22,24,
  0,0,1.5,3,6,7,7,8,8,9,10,10,11,12,13,14,15,15,17,18,18,
  0,1,1,3,3,4.8,6,6,7,8,9,10,11,11,12,13,14,14,15,15,16,17,
  0,1,1,2,3,4,5,6,6,8,8,9,10,10,12,12,
  0,0,1,1,2,2,3,3,5,5,5,
  0,0.7,2.2,3.3,5,5,6,6,7,8,8,9,9,10,10,11,12,13,14,14,
  0,0,1.2,1.2,2,2,3,3,4,4,5,5,6,6
];
const predDB = [
  13.9,14,12.6,14.2,14.2,13.9,13.7,14,13.9,13.9,14.6,14.7,14.7,
  16,16.5,16.8,16.3,16.8,17,17,17.6,17.3,17.6,18.1,17.3,17.3,
  20.2,19.9,20,20.4,20.4,20.4,20.2,20.4,20.7,20.7,20.9,21.2,20.8,
  23.8,23.5,23.5,23.8,23.5,23.8,24.3,24,24,24.3,24.3,24.3,24,
  26.9,26.6,27.2,26.9,27.2,27.2,27.7,27.7,27.2,27.2,
  31.3,30,30,29.6,30.3,30.5,30.8,30.8,31.6,31.1,31.3,31.1,31.1,
  38.3,33.7,34.2,35,32.4,31.8,35.5,34.2,35,35,35.2,36.3,35.2,33.4,33.4,31.3,30.3,18.6,20.9,20.9,21,20.7
];
const predES = [
  12.6,11.8,11.6,12,12.4,13.4,13.4,13.7,12.9,13.1,13.9,13.7,14.2,
  15.7,15,15,15,14.7,14.8,15,15.5,15.5,15.7,15.7,15.5,15.5,
  16.3,16,16,15.7,16.5,16.5,16.3,16.5,16.8,16.8,17,16.8,17.6,
  18.1,17.8,17.8,17.6,18.1,18.3,18.1,18.1,18.3,18.3,18.3,18.3,18.6,
  19.1,18.9,19.6,19.4,19.6,19.4,19.9,19.9,19.9,19.9,
  22,21.2,21,20.7,20.7,21.2,21.2,21.5,21.5,21.7,21.7,21.7,22.2,
  32.4,25.1,25.1,23,22,20.9,20.2,19.1,17.6,17.8,17.3,16.3,14.8,14.2,14.4,14.2,13.1,11.1,9,8.7,8.5,7.7
];
const bandDBHi = [
  22.5,22,20.9,22.5,22.8,22.8,21.5,22.3,22.2,22.8,23.5,23.8,23.5,
  26.1,25.4,24.8,24.6,25.1,25.4,25.6,25.9,26.1,26.4,26.4,25.6,25.9,
  30,28.8,28.7,29,29,29.2,29.2,29.2,29.2,29.5,29.5,29.5,29.8,
  32.9,32.6,32.6,32.4,32.4,32.6,32.9,32.6,32.9,32.6,32.6,32.4,32.6,
  36,35.2,35.7,35.2,35.5,35.7,35.5,35,35,35,
  38.9,37.6,37.3,37,37.3,38.1,38.1,38.1,38.6,38.1,38.6,37.6,37.8,
  44,39.1,39.9,38.6,37,38.6,42,39.4,40.2,39.6,39.6,40.9,38.6,37.3,37.3,35.2,34.4,20.9,20.7,23.3,22.5,22
];
const bandDBLo = [
  5.4,5.1,5.1,5.4,6.1,5.8,4.6,5.1,5.6,5.4,5.4,6.1,6.4,
  7.9,7.7,7.4,7.2,7.7,7.7,7.9,8.2,7.9,8.5,8.2,8.2,8.5,
  11.1,10.8,11.1,11.3,11.1,11.3,11.6,11.8,12.1,12.1,12.4,13.1,12.9,
  14.7,14.9,14.7,15.5,15.2,15.5,15.2,15.7,15.5,15.5,16,15.7,16,
  19.1,18.6,19.1,18.9,18.9,18.6,18.9,19.4,18.9,19.1,
  24.3,22.8,22.8,21.7,22.5,22.8,22.8,23,24.3,23.8,24,24.8,23.8,
  30,30.3,31.3,29.5,27.7,26.4,31.8,28.7,29.8,29.8,30.3,31.6,30.3,29,29,27.4,26.6,16.5,18.3,19.1,19.4,19.1
];
const bandESHi = [
  20.2,19.1,19.1,19.4,20.2,21.2,21,21.2,21.2,21.5,21.6,21.8,22,
  23,22.8,22.5,22.5,22.5,22.5,22.8,22.8,22.8,22.8,23,22.8,22.8,
  23.8,23.3,23.3,23.3,23.5,23.5,23.5,23.8,23.8,24,24,24,24.3,
  24.8,24.6,24.6,24.3,24.6,24.6,24.6,24.6,24.6,24.8,24.8,24.8,24.8,
  25.9,25.4,25.9,25.9,25.9,25.9,25.9,25.9,25.6,25.6,
  27.9,26.9,27.2,26.4,26.9,27.2,26.9,27.2,27.7,27.2,27.7,26.9,27.4,
  36.3,29.8,30.3,27.2,26.1,24.6,23.5,22,21.2,21.7,20.4,19.1,18.3,16.8,17.6,16.5,15.7,11.6,11.1,10.5,10,9.2
];
const bandESLo = [
  4.3,4.6,4.4,5.1,5.4,5.6,4.6,5.1,5.1,5.4,5.1,5.9,6.2,
  7.2,6.9,6.9,6.6,6.9,6.9,7.2,7.2,7.2,7.4,7.7,7.7,7.7,
  9,8.7,8.7,9,9.2,9.5,9.8,9.8,10,10.3,10.3,10.5,10.8,
  11.3,11.1,11.1,10.8,11.1,11.3,11.1,11.3,11.6,11.6,11.6,11.8,11.8,
  13.4,12.9,13.1,12.9,12.9,13.1,13.7,13.7,13.7,13.7,
  15.2,15.2,15,14.4,15,15.2,15.2,15.5,15.7,16,16.5,16.8,16.8,
  26.6,19.4,20.4,17.8,16.8,15.7,15,13.4,13.1,13.7,12.6,11.6,11.1,10.8,11.3,10,8.7,6.9,5.9,5.9,5.6,6.4
];
const countLegend = ["Truth DENZEL BENTLEY: 20", "Truth ENDRY SAAVEDRA: 6", "Predicted DENZEL BENTLEY: 38.4", "Predicted ENDRY SAAVEDRA: 32.9"];

Chart.defaults.font.family = '"DejaVu Sans", sans-serif';
Chart.defaults.color = "#111";

function rgba(hex, a) {
  const n = parseInt(hex.slice(1), 16);
  return `rgba(${n >> 16},${(n >> 8) & 255},${n & 255},${a})`;
}
function pts(values, at = times) {
  return values.map((y, i) => ({ x: at[i], y }));
}

// dotted round separators, round names and the axes frame
const roundMarks = {
  id: "roundMarks",
  afterDatasetsDraw(chart, args, opts) {
    const { ctx, chartArea: a, scales } = chart;
    ctx.save();
    ctx.lineWidth = 1;
    ctx.strokeStyle = "rgba(0,0,0,0.5)";
    ctx.setLineDash([1.5, 2.5]);
    ctx.font = '15px "DejaVu Sans"';
    ctx.fillStyle = "rgba(0,0,0,0.55)";
    ctx.textBaseline = "middle";
    roundStarts.forEach((t, i) => {
      const px = Math.round(scales.x.getPixelForValue(t)) + 0.5;
      ctx.beginPath();
      ctx.moveTo(px, a.top);
      ctx.lineTo(px, a.bottom);
      ctx.stroke();
      ctx.fillText(roundNames[i], px + 4, a.top + opts.labelY);
    });
    ctx.setLineDash([]);
    ctx.strokeStyle = "#1a1a1a";
    ctx.lineWidth = 1.7;
    ctx.strokeRect(a.left, a.top, a.right - a.left, a.bottom - a.top);
    ctx.restore();
  }
};

function xScale(showLabels, height) {
  return {
    type: "linear", min: -59.3, max: 1245.3,
    afterBuildTicks: s => { s.ticks = xTicks.map(v => ({ value: v })); },
    afterFit: s => { s.height = height; },
    border: { display: false },
    grid: { drawOnChartArea: false, tickLength: 7, tickColor: "#222", tickWidth: 1.4 },
    ticks: { display: showLabels, autoSkip: false, maxRotation: 0, padding: 7, font: { size: 14 }, callback: v => String(v) }
  };
}

function baseOptions(top, xHeight, labelY) {
  return {
    responsive: false, animation: false, events: [], devicePixelRatio: 1,
    layout: { padding: { left: 33, right: 22.5, top: top, bottom: 0 } },
    plugins: { legend: { display: false }, tooltip: { enabled: false }, roundMarks: { labelY } },
    elements: { line: { tension: 0, borderJoinStyle: "round" }, point: { radius: 0 } },
    scales: { x: xScale(xHeight > 30, xHeight) }
  };
}

function probChart(id, solids, lows) {
  const datasets = [];
  solids.forEach((s, k) => {
    datasets.push({ data: pts(s), borderColor: rgba(seriesColors[k], 0.85), borderWidth: 2, fill: false, order: 100 - k });
    datasets.push({ data: pts(lows[k]), borderColor: rgba(seriesColors[k], 0.55), borderWidth: 1.2, borderDash: [1.5, 2.5],
      fill: "-1", backgroundColor: rgba(seriesColors[k], 0.1), order: 100 - k });
  });
  const options = baseOptions(52, 26, 21.7);
  options.scales.y = {
    min: 0, max: 1.15,
    afterBuildTicks: s => { s.ticks = probTicks.map(v => ({ value: v })); },
    afterFit: s => { s.width = 60; },
    border: { display: false },
    grid: { color: "rgba(176,176,176,0.35)", lineWidth: 1.2, tickLength: 7, tickColor: "#222", tickWidth: 1.4 },
    ticks: { autoSkip: false, padding: 7, font: { size: 14 }, callback: v => v.toFixed(2) }
  };
  new Chart(document.getElementById(id), { type: "line", data: { datasets }, options, plugins: [roundMarks] });
}

function countChart() {
  const datasets = [
    { data: pts(bandDBHi), borderColor: "rgba(255,0,0,0.15)", borderWidth: 1, fill: false, order: 50 },
    { data: pts(bandDBLo), borderColor: "rgba(255,0,0,0.15)", borderWidth: 1, fill: "-1", backgroundColor: "rgba(255,0,0,0.14)", order: 50 },
    { data: pts(bandESHi), borderColor: "rgba(0,0,255,0.15)", borderWidth: 1, fill: false, order: 49 },
    { data: pts(bandESLo), borderColor: "rgba(0,0,255,0.15)", borderWidth: 1, fill: "-1", backgroundColor: "rgba(0,0,255,0.13)", order: 49 },
    { data: pts(predDB), borderColor: "rgba(255,0,0,0.6)", borderWidth: 2.8, borderDash: [2.5, 4.5], fill: false, order: 48 },
    { data: pts(predES), borderColor: "rgba(0,0,255,0.6)", borderWidth: 2.8, borderDash: [2.5, 4.5], fill: false, order: 47 },
    { data: pts(truthDB, truthDBTimes), borderColor: "rgba(255,0,0,0.75)", borderWidth: 2.8, fill: false, order: 46 },
    { data: pts(truthES, truthESTimes), borderColor: "rgba(0,0,255,0.75)", borderWidth: 2.8, fill: false, order: 45 }
  ];
  const options = baseOptions(52.7, 82, 17.6);
  options.scales.y = {
    min: -2.21, max: 46.4,
    afterBuildTicks: s => { s.ticks = countTicks.map(v => ({ value: v })); },
    afterFit: s => { s.width = 60; },
    border: { display: false },
    grid: { color: "rgba(176,176,176,0.35)", lineWidth: 1.2, tickLength: 7, tickWidth: 1.4,
      tickColor: c => countLabels.includes(c.tick.value) ? "#222" : "rgba(0,0,0,0)" },
    ticks: { autoSkip: false, padding: 7, font: { size: 14 }, callback: v => countLabels.includes(v) ? String(v) : "" }
  };
  new Chart(document.getElementById("cnt"), { type: "line", data: { datasets }, options, plugins: [roundMarks] });
}

function handle(width, color, lw, dash) {
  const d = dash ? ` stroke-dasharray="${dash}"` : "";
  return `<svg width="${width}" height="10"><line x1="0" y1="5" x2="${width}" y2="5" stroke="${color}" stroke-width="${lw}"${d}/></svg>`;
}

function probLegend(top) {
  const colX = [4.7, 115.7, 235.7, 355.7];
  const box = document.createElement("div");
  box.className = "legend";
  Object.assign(box.style, { left: "1616px", top: top + "px", width: "455px", height: "42px" });
  thresholds.forEach((name, k) => {
    const it = document.createElement("div");
    it.className = "item";
    it.style.left = colX[Math.floor(k / 2)] + "px";
    it.style.top = (k % 2 ? 20.7 : 2) + "px";
    it.style.height = "16px";
    it.innerHTML = handle(26.6, rgba(seriesColors[k], 0.85), 2) + `<span style="margin-left:9.4px;font-size:12.5px">${name}</span>`;
    box.appendChild(it);
  });
  document.getElementById("page").appendChild(box);
}

function countLegendBox() {
  const styles = [["rgba(255,0,0,0.75)", 2.8, null], ["rgba(0,0,255,0.75)", 2.8, null],
                  ["rgba(255,0,0,0.6)", 2.8, "2.5 4.5"], ["rgba(0,0,255,0.6)", 2.8, "2.5 4.5"]];
  const rowY = [12.5, 34.5, 57, 79.5];
  const box = document.createElement("div");
  box.className = "legend";
  Object.assign(box.style, { left: "99.5px", top: "1114px", width: "301px", height: "94px" });
  countLegend.forEach((name, k) => {
    const it = document.createElement("div");
    it.className = "item";
    it.style.left = "5px";
    it.style.top = (rowY[k] - 10) + "px";
    it.style.height = "18px";
    it.innerHTML = handle(31.2, styles[k][0], styles[k][1], styles[k][2]) + `<span style="margin-left:10.4px;font-size:14.5px">${name}</span>`;
    box.appendChild(it);
  });
  document.getElementById("page").appendChild(box);
}

probChart("top",
  [db4_5, db9_5, db14_5, db19_5, db24_5, db29_5, db34_5, db39_5],
  [db4_5Lo, db9_5Lo, db14_5Lo, db19_5Lo, db24_5Lo, db29_5Lo, db34_5Lo, db39_5Lo]);
probChart("mid",
  [es4_5, es9_5, es14_5, es19_5, es24_5, es29_5, es34_5, es39_5],
  [es4_5Lo, es9_5Lo, es14_5Lo, es19_5Lo, es24_5Lo, es29_5Lo, es34_5Lo, es39_5Lo]);
countChart();
probLegend(58);
probLegend(585);
countLegendBox();
</script>
</body>
</html>
